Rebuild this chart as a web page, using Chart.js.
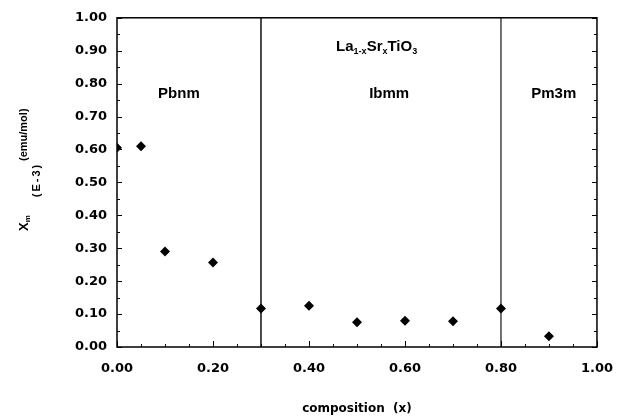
<!DOCTYPE html>
<html lang="en">
<head>
  <meta charset="UTF-8" />
  <title>La1-xSrxTiO3 susceptibility</title>
  <script src="https://cdn.jsdelivr.net/npm/chart.js"></script>
  <style>
    body { margin: 0; background: #fff; }
  </style>
</head>
<body>
  <canvas id="myChart" width="627" height="417"></canvas>

  <script>
    // composition x and molar susceptibility (E-3 emu/mol)
    const composition = [0, 0.05, 0.1, 0.2, 0.3, 0.4, 0.5, 0.6, 0.7, 0.8, 0.9];
    const chiM = [0.605, 0.61, 0.29, 0.257, 0.117, 0.125, 0.075, 0.08, 0.078, 0.117, 0.033];

    // phase boundaries
    const boundaries = [0.3, 0.8];

    // phase labels (text, x, y in data units)
    const phaseNames = ['Pbnm', 'Ibmm', 'Pm3m'];
    const phaseX = [0.129, 0.567, 0.91];
    const phaseY = 0.77;

    const xTicks = [0, 0.2, 0.4, 0.6, 0.8, 1.0];
    const yTicks = [0, 0.1, 0.2, 0.3, 0.4, 0.5, 0.6, 0.7, 0.8, 0.9, 1.0];

    const tickFont = { family: 'DejaVu Sans', weight: 'bold', size: 13 };

    const points = composition.map((x, i) => ({ x: x, y: chiM[i] }));

    const boundarySets = boundaries.map((b, i) => ({
      type: 'line',
      data: [{ x: b, y: 0 }, { x: b, y: 1 }],
      borderColor: i === 0 ? '#111' : '#444',
      borderWidth: 1.5,
      pointRadius: 0,
      fill: false
    }));

    // frame, inward ticks, annotation text, y-axis title
    const decor = {
      id: 'decor',
      afterDraw(chart) {
        const c = chart.ctx;
        const a = chart.chartArea;
        const xs = chart.scales.x;
        const ys = chart.scales.y;
        c.save();
        c.strokeStyle = '#000';
        c.lineWidth = 1.5;
        c.strokeRect(a.left, a.top, a.right - a.left, a.bottom - a.top);

        c.lineWidth = 1;
        c.beginPath();
        for (let i = 0; i <= 20; i++) {
          const px = Math.round(xs.getPixelForValue(i * 0.05)) + 0.5;
          const len = i % 4 === 0 ? 6 : 3;
          c.moveTo(px, a.bottom);
          c.lineTo(px, a.bottom - len);
        }
        for (let i = 0; i <= 20; i++) {
          const py = Math.round(ys.getPixelForValue(i * 0.05)) + 0.5;
          const len = i % 2 === 0 ? 5 : 3;
          c.moveTo(a.left, py);
          c.lineTo(a.left + len, py);
          c.moveTo(a.right, py);
          c.lineTo(a.right - len, py);
        }
        c.stroke();

        // phase names
        c.fillStyle = '#000';
        c.textAlign = 'center';
        c.textBaseline = 'middle';
        c.font = 'bold 15px "Liberation Sans"';
        phaseNames.forEach((n, i) => {
          c.fillText(n, xs.getPixelForValue(phaseX[i]), ys.getPixelForValue(phaseY));
        });

        // formula La(1-x)Sr(x)TiO(3)
        const parts = [['La', 0], ['1-x', 1], ['Sr', 0], ['x', 1], ['TiO', 0], ['3', 1]];
        const big = 'bold 15px "Liberation Sans"';
        const small = 'bold 9px "Liberation Sans"';
        let total = 0;
        parts.forEach(p => { c.font = p[1] ? small : big; total += c.measureText(p[0]).width; });
        let cx = xs.getPixelForValue(0.541) - total / 2;
        const cy = ys.getPixelForValue(0.912);
        c.textAlign = 'left';
        parts.forEach(p => {
          c.font = p[1] ? small : big;
          c.fillText(p[0], cx, p[1] ? cy + 5 : cy);
          cx += c.measureText(p[0]).width;
        });

        // y axis title
        c.save();
        c.translate(24, 231);
        c.rotate(-Math.PI / 2);
        c.textAlign = 'left';
        c.font = 'bold 13px "Liberation Sans"';
        c.fillText('X', 0, 0);
        const wx = c.measureText('X').width;
        c.font = 'bold 8px "Liberation Sans"';
        c.fillText('m', wx, 4);
        c.font = 'bold 11px "Liberation Sans"';
        c.fillText('(emu/mol)', 70, 0);
        c.restore();

        c.save();
        c.translate(37, 180);
        c.rotate(-Math.PI / 2);
        c.textAlign = 'center';
        c.font = 'bold 11px "Liberation Sans"';
        c.letterSpacing = '2px';
        c.fillText('(E-3)', 0, 0);
        c.restore();

        c.restore();
      }
    };

    const ctx = document.getElementById('myChart').getContext('2d');
    new Chart(ctx, {
      type: 'scatter',
      data: {
        datasets: [{
          data: points,
          pointStyle: 'rectRot',
          pointRadius: 5,
          backgroundColor: '#000',
          borderColor: '#000',
          borderWidth: 0
        }, ...boundarySets]
      },
      options: {
        responsive: false,
        animation: false,
        layout: { padding: { top: 16, right: 20, left: 0, bottom: 0 } },
        plugins: { legend: { display: false }, tooltip: { enabled: false } },
        scales: {
          x: {
            type: 'linear',
            min: 0,
            max: 1,
            afterFit: s => { s.height = 70; },
            afterBuildTicks: s => { s.ticks = xTicks.map(v => ({ value: v })); },
            grid: { display: false, drawTicks: false },
            border: { display: false },
            ticks: {
              padding: 14,
              color: '#000',
              font: tickFont,
              maxRotation: 0,
              callback: v => v.toFixed(2)
            },
            title: {
              display: true,
              text: 'composition  (x)',
              color: '#000',
              font: { family: 'DejaVu Sans', weight: 'bold', size: 12 },
              padding: { top: 0, bottom: 1 }
            }
          },
          y: {
            type: 'linear',
            min: 0,
            max: 1,
            afterFit: s => { s.width = 117; },
            afterBuildTicks: s => { s.ticks = yTicks.map(v => ({ value: v })); },
            grid: { display: false, drawTicks: false },
            border: { display: false },
            ticks: {
              padding: 10,
              color: '#000',
              font: tickFont,
              callback: v => v.toFixed(2)
            }
          }
        }
      },
      plugins: [decor]
    });
  </script>
</body>
</html>
